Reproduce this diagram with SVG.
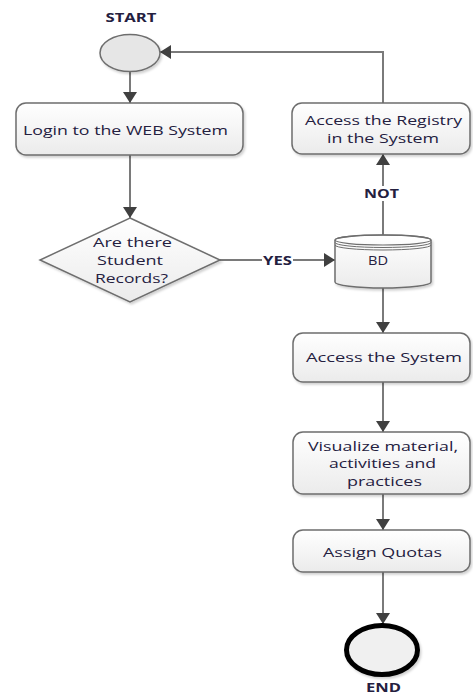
<svg xmlns="http://www.w3.org/2000/svg" width="473" height="696" viewBox="0 0 473 696">
  <style>
    .box { fill: url(#boxFill); stroke: #6e6e6e; stroke-width: 1.5; filter: url(#shadow); }
    .lbl { font-family: "Open Sans", "Liberation Sans", sans-serif; font-size: 13px; fill: #24203f; text-anchor: middle; }
    .tag { font-family: "Open Sans", "Liberation Sans", sans-serif; font-size: 12px; font-weight: bold; fill: #24203f; text-anchor: middle; }
    .wire { fill: none; stroke: #7a7a7a; stroke-width: 2; }
    .arrow { fill: none; stroke: #7a7a7a; stroke-width: 2; marker-end: url(#head); }
  </style>
  <defs>
    <linearGradient id="boxFill" x1="0" y1="0" x2="0" y2="1">
      <stop offset="0" stop-color="#ffffff"/>
      <stop offset="1" stop-color="#ebebeb"/>
    </linearGradient>
    <filter id="shadow" x="-10%" y="-10%" width="120%" height="130%">
      <feDropShadow dx="1.5" dy="2" stdDeviation="1.2" flood-color="#000" flood-opacity="0.18"/>
    </filter>
    <marker id="head" markerUnits="userSpaceOnUse" markerWidth="12" markerHeight="14" refX="11" refY="7" orient="auto">
      <path d="M0,0 L11,7 L0,14 Z" fill="#404040"/>
    </marker>
  </defs>

  <!-- connectors -->
  <g id="connectors">
    <path class="arrow" d="M130,72 V103"/>
    <path class="arrow" d="M130,155 V218"/>
    <path class="wire" d="M220,260 H262"/>
    <path class="arrow" d="M293,260 H335"/>
    <text class="tag" x="277.5" y="264.5" textLength="29" lengthAdjust="spacingAndGlyphs">YES</text>
    <path class="wire" d="M383,235 V201"/>
    <path class="arrow" d="M383,186 V154"/>
    <text class="tag" x="381.5" y="197.5" textLength="35" lengthAdjust="spacingAndGlyphs">NOT</text>
    <path class="arrow" d="M383,103 V52 H160"/>
    <path class="arrow" d="M383,288 V333"/>
    <path class="arrow" d="M383,382 V432"/>
    <path class="arrow" d="M383,494 V530"/>
    <path class="arrow" d="M383,572 V624"/>
  </g>

  <!-- start terminal -->
  <g id="start">
    <text class="tag" x="131" y="21.5" textLength="51" lengthAdjust="spacingAndGlyphs">START</text>
    <ellipse cx="130" cy="53" rx="30" ry="18.5" fill="#e6e6e6" stroke="#6e6e6e" stroke-width="1.5" filter="url(#shadow)"/>
  </g>

  <!-- login step -->
  <g id="login">
    <rect class="box" x="16" y="103" width="227" height="52" rx="10"/>
    <text class="lbl" x="125.5" y="134.5" textLength="205" lengthAdjust="spacingAndGlyphs">Login to the WEB System</text>
  </g>

  <!-- decision -->
  <g id="records">
    <polygon class="box" points="130,218 220,260 130,302 40,260"/>
    <text class="lbl" x="132.5" y="246.5" textLength="79" lengthAdjust="spacingAndGlyphs">Are there</text>
    <text class="lbl" x="130" y="264.5" textLength="66" lengthAdjust="spacingAndGlyphs">Student</text>
    <text class="lbl" x="131.5" y="282.5" textLength="73" lengthAdjust="spacingAndGlyphs">Records?</text>
  </g>

  <!-- database -->
  <g id="bd">
    <path class="box" d="M335,240 A48,5 0 0 1 431,240 V282 A48,6 0 0 1 335,282 Z"/>
    <ellipse cx="383" cy="240" rx="48" ry="5" fill="none" stroke="#6e6e6e" stroke-width="1.2"/>
    <path d="M335,242.5 A48,5 0 0 0 431,242.5 M335,245 A48,5 0 0 0 431,245" fill="none" stroke="#6e6e6e" stroke-width="1"/>
    <text class="lbl" x="378" y="264.5" textLength="20" lengthAdjust="spacingAndGlyphs">BD</text>
  </g>

  <!-- registry step -->
  <g id="registry">
    <rect class="box" x="292" y="103" width="178" height="51" rx="10"/>
    <text class="lbl" x="383.5" y="124.5" textLength="157" lengthAdjust="spacingAndGlyphs">Access the Registry</text>
    <text class="lbl" x="383" y="142.5" textLength="112" lengthAdjust="spacingAndGlyphs">in the System</text>
  </g>

  <!-- access step -->
  <g id="access">
    <rect class="box" x="293" y="333" width="177" height="49" rx="10"/>
    <text class="lbl" x="384" y="361.5" textLength="156" lengthAdjust="spacingAndGlyphs">Access the System</text>
  </g>

  <!-- visualize step -->
  <g id="visualize">
    <rect class="box" x="293" y="432" width="177" height="62" rx="10"/>
    <text class="lbl" x="383" y="450.5" textLength="150" lengthAdjust="spacingAndGlyphs">Visualize material,</text>
    <text class="lbl" x="382.5" y="467.5" textLength="107" lengthAdjust="spacingAndGlyphs">activities and</text>
    <text class="lbl" x="384.5" y="485.5" textLength="75" lengthAdjust="spacingAndGlyphs">practices</text>
  </g>

  <!-- quotas step -->
  <g id="quotas">
    <rect class="box" x="293" y="530" width="177" height="42" rx="10"/>
    <text class="lbl" x="382.5" y="556.5" textLength="119" lengthAdjust="spacingAndGlyphs">Assign Quotas</text>
  </g>

  <!-- end terminal -->
  <g id="end">
    <ellipse cx="382" cy="650" rx="35.5" ry="24.5" fill="#f0f0f0" stroke="#000" stroke-width="5" filter="url(#shadow)"/>
    <text class="tag" x="383.5" y="692" textLength="35" lengthAdjust="spacingAndGlyphs">END</text>
  </g>
</svg>
